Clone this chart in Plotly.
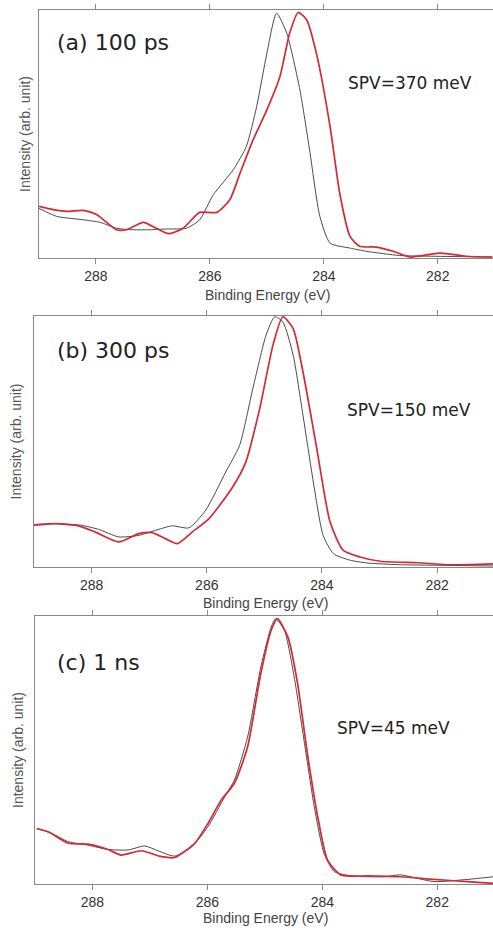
import plotly.graph_objects as go

# ---------------- data ----------------
# Panel (a) 100 ps
a_dark_E = [289.0, 288.69, 288.22, 287.93, 287.64, 287.35, 287.05, 286.76, 286.41, 286.18, 285.94, 285.59,
            285.36, 285.18, 285.0, 284.83, 284.65, 284.42, 284.25, 284.07, 283.89, 283.54, 283.25, 282.67,
            282.08, 281.04]
a_dark_I = [0.20, 0.168, 0.154, 0.144, 0.12, 0.114, 0.114, 0.117, 0.12, 0.154, 0.255, 0.356,
            0.45, 0.61, 0.825, 0.987, 0.906, 0.678, 0.436, 0.168, 0.06, 0.04, 0.027, 0.01,
            0.007, 0.004]
a_lit_E = [289.0, 288.75, 288.51, 288.22, 287.99, 287.64, 287.46, 287.17, 286.94, 286.73, 286.47, 286.18,
           285.88, 285.65, 285.47, 285.24, 285.0, 284.77, 284.6, 284.45, 284.3, 284.13, 283.89, 283.72,
           283.54, 283.37, 283.08, 282.78, 282.49, 281.96, 281.5, 281.04]
a_lit_I = [0.208, 0.195, 0.188, 0.192, 0.175, 0.114, 0.114, 0.144, 0.12, 0.098, 0.12, 0.184,
           0.184, 0.235, 0.342, 0.477, 0.597, 0.732, 0.906, 0.99, 0.96, 0.825, 0.53, 0.26,
           0.087, 0.047, 0.044, 0.027, 0.004, 0.02, 0.007, 0.004]

# Panel (b) 300 ps
b_dark_E = [289.03, 288.64, 288.17, 287.88, 287.53, 287.18, 286.89, 286.6, 286.31, 286.02, 285.67, 285.43,
            285.2, 284.97, 284.82, 284.68, 284.5, 284.33, 284.15, 283.98, 283.8, 283.51, 283.22, 282.64,
            282.05, 281.0]
b_dark_I = [0.169, 0.173, 0.166, 0.15, 0.12, 0.126, 0.146, 0.164, 0.156, 0.226, 0.379, 0.485,
            0.711, 0.924, 0.997, 0.977, 0.844, 0.605, 0.339, 0.126, 0.053, 0.027, 0.016, 0.009,
            0.007, 0.004]
b_lit_E = [289.03, 288.64, 288.23, 287.94, 287.53, 287.18, 286.95, 286.72, 286.51, 286.25, 285.96, 285.55,
           285.32, 285.08, 284.85, 284.68, 284.5, 284.33, 284.09, 283.86, 283.63, 283.34, 282.99, 282.34,
           281.76, 281.0]
b_lit_I = [0.166, 0.173, 0.164, 0.14, 0.10, 0.133, 0.137, 0.113, 0.093, 0.14, 0.193, 0.319,
           0.419, 0.632, 0.884, 0.997, 0.95, 0.778, 0.472, 0.18, 0.066, 0.04, 0.023, 0.017,
           0.009, 0.013]

# Panel (c) 1 ns
c_dark_E = [288.97, 288.71, 288.42, 288.08, 287.73, 287.38, 287.09, 286.86, 286.57, 286.28, 285.99, 285.7,
            285.53, 285.3, 285.07, 284.89, 284.81, 284.66, 284.49, 284.31, 284.14, 283.97, 283.79, 283.5,
            282.92, 282.64, 282.06, 281.48, 281.02]
c_dark_I = [0.207, 0.189, 0.158, 0.145, 0.129, 0.127, 0.142, 0.124, 0.104, 0.137, 0.214, 0.325,
            0.388, 0.549, 0.81, 0.959, 0.99, 0.947, 0.773, 0.524, 0.288, 0.114, 0.046, 0.03,
            0.027, 0.034, 0.009, 0.017, 0.027]
c_lit_E = [288.97, 288.77, 288.42, 288.08, 287.73, 287.5, 287.15, 286.8, 286.57, 286.22, 285.99, 285.76,
           285.53, 285.3, 285.07, 284.89, 284.78, 284.6, 284.43, 284.26, 284.08, 283.91, 283.68, 283.21,
           282.64, 282.06, 281.48, 281.02]
c_lit_I = [0.207, 0.195, 0.152, 0.149, 0.129, 0.108, 0.124, 0.102, 0.099, 0.152, 0.226, 0.313,
           0.376, 0.512, 0.786, 0.947, 0.99, 0.922, 0.748, 0.487, 0.251, 0.089, 0.034, 0.03,
           0.027, 0.017, 0.009, 0.002]

panel_labels = ["(a) 100 ps", "(b) 300 ps", "(c) 1 ns"]
spv_labels = ["SPV=370 meV", "SPV=150 meV", "SPV=45 meV"]
tick_vals = [288, 286, 284, 282]
tick_text = ["288", "286", "284", "282"]
x_title = "Binding Energy (eV)"
y_title = "Intensity (arb. unit)"

# ---------------- layout helpers ----------------
W, H = 493, 928
FONT = "Liberation Sans, Arial, sans-serif"
LFONT = "DejaVu Sans, sans-serif"
# pixel geometry: (left, top, bottom) of each plot frame
frames = [(39, 10, 258), (34, 316, 567), (35, 616, 884)]
label_pos = [(55, 43), (55, 350), (55, 662)]
spv_pos = [(346, 83), (345, 410), (335, 728)]
xtitle_pos = [(267, 295), (265, 603), (265, 918)]
ytitle_x = [25, 15, 18]

def px(x):
    return x / W

def py(y):
    return 1 - y / H

fig = go.Figure()
series = [(a_dark_E, a_dark_I, a_lit_E, a_lit_I),
          (b_dark_E, b_dark_I, b_lit_E, b_lit_I),
          (c_dark_E, c_dark_I, c_lit_E, c_lit_I)]

annotations = []
for i, (dE, dI, lE, lI) in enumerate(series):
    n = "" if i == 0 else str(i + 1)
    xa, ya = "x" + n, "y" + n
    fig.add_trace(go.Scatter(x=dE, y=dI, xaxis=xa, yaxis=ya, mode="lines",
                             line=dict(color="#4a4a4a", width=1, shape="spline", smoothing=0.6),
                             showlegend=False))
    fig.add_trace(go.Scatter(x=lE, y=lI, xaxis=xa, yaxis=ya, mode="lines",
                             line=dict(color="#d42a35", width=1.7, shape="spline", smoothing=0.6),
                             showlegend=False))
    left, top, bot = frames[i]
    fig.layout["xaxis" + n] = dict(
        domain=[px(left), 1], anchor=ya, range=[289.0, 281.03],
        tickvals=tick_vals, ticktext=tick_text, ticks="outside", ticklen=5, tickcolor="#888",
        showline=True, linecolor="#888", linewidth=1, mirror="allticks",
        showgrid=False, zeroline=False,
        tickfont=dict(family=FONT, size=14, color="#333"))
    fig.layout["yaxis" + n] = dict(
        domain=[py(bot), py(top)], anchor=xa, range=[0, 1.0],
        showticklabels=False, ticks="", showline=True, linecolor="#888", linewidth=1,
        mirror=False, showgrid=False, zeroline=False)
    annotations.append(dict(text=panel_labels[i], x=px(label_pos[i][0]), y=py(label_pos[i][1]),
                            xref="paper", yref="paper", xanchor="left", yanchor="middle",
                            showarrow=False, font=dict(family=LFONT, size=22, color="#222")))
    annotations.append(dict(text=spv_labels[i], x=px(spv_pos[i][0]), y=py(spv_pos[i][1]),
                            xref="paper", yref="paper", xanchor="left", yanchor="middle",
                            showarrow=False, font=dict(family=LFONT, size=17, color="#222")))
    annotations.append(dict(text=x_title, x=px(xtitle_pos[i][0]), y=py(xtitle_pos[i][1]),
                            xref="paper", yref="paper", xanchor="center", yanchor="middle",
                            showarrow=False, font=dict(family=FONT, size=14, color="#444")))
    annotations.append(dict(text=y_title, x=px(ytitle_x[i]), y=py((top + bot) / 2),
                            xref="paper", yref="paper", xanchor="center", yanchor="middle",
                            textangle=-90, showarrow=False,
                            font=dict(family=FONT, size=14, color="#555")))

fig.update_layout(width=W, height=H, margin=dict(l=0, r=0, t=0, b=0),
                  paper_bgcolor="white", plot_bgcolor="white",
                  annotations=annotations, showlegend=False, hovermode=False)

fig.write_html("out.html", config={"displayModeBar": False},
               post_script="document.body.style.margin='0';document.body.style.overflow='hidden';")
